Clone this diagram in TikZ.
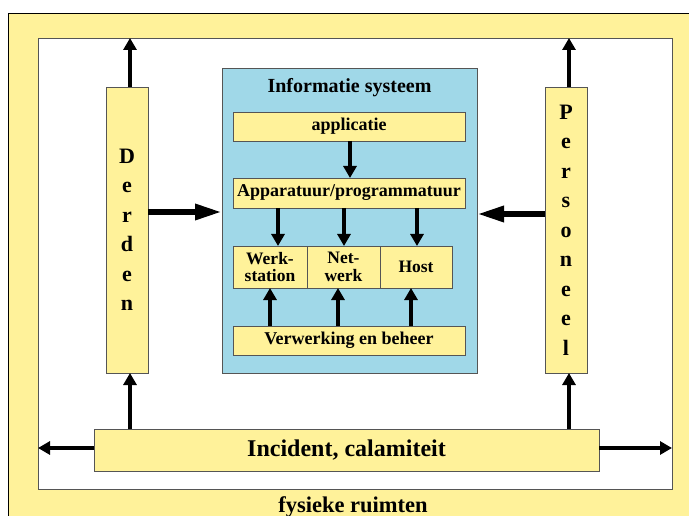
\documentclass[tikz,border=0pt]{standalone}
\usepackage{fontspec}
\setmainfont{Liberation Serif}
\usetikzlibrary{arrows.meta}
\definecolor{ylw}{RGB}{255,242,154}
\definecolor{blu}{RGB}{160,216,232}
\definecolor{edge}{RGB}{85,85,85}
\tikzset{
  box/.style={draw=edge, line width=0.8pt, fill=ylw, inner sep=0pt, outer sep=0pt, align=center, font=\bfseries\fontsize{17.5}{17.5}\selectfont},
  vbox/.style={box, minimum width=42pt, minimum height=286pt, font=\bfseries\fontsize{22}{29.5}\selectfont},
  arr/.style={line width=4.5pt, -{Triangle[length=12pt,width=13pt]}},
  bigarr/.style={line width=6pt, -{Triangle[length=27pt,width=15pt]}},
}
\begin{document}
\begin{tikzpicture}[x=1pt,y=-1pt]
\useasboundingbox (0,0) rectangle (689,516);
% outer yellow frame
\fill[ylw] (8,13) rectangle (689,516);
\draw[line width=0.9pt] (8,516) -- (8,13) -- (689,13);
% inner room
\node[draw=edge, line width=0.9pt, fill=white, minimum width=634pt, minimum height=451pt, inner sep=0pt, outer sep=0pt] (room) at (355,263.5) {};
\node[font=\bfseries\fontsize{22.5}{24}\selectfont, anchor=base] (fys) at (353,512) {fysieke ruimten};
% side boxes
\node[vbox] (derden) at (127,230) {D\\e\\r\\d\\e\\n};
\node[vbox] (pers) at (566,230) {P\\e\\r\\s\\o\\n\\e\\e\\l};
% information system
\node[draw=edge, line width=0.8pt, fill=blu, minimum width=255pt, minimum height=305pt, inner sep=0pt, outer sep=0pt] (info) at (349.5,220.5) {};
\node[font=\bfseries\fontsize{20}{20}\selectfont] (title) at (349.5,88) {Informatie systeem};
\node[box, minimum width=232pt, minimum height=29pt, font=\bfseries\fontsize{18}{18}\selectfont] (appl) at (349,126.5) {applicatie};
\node[box, minimum width=232pt, minimum height=30pt, font=\bfseries\fontsize{18}{18}\selectfont] (appar) at (349,193) {Apparatuur/programmatuur};
\node[box, minimum width=74pt, minimum height=42pt] (werk) at (270,267) {Werk-\\station};
\node[box, minimum width=73pt, minimum height=42pt] (net) at (343.5,267) {Net-\\werk};
\node[box, minimum width=72pt, minimum height=42pt] (host) at (416,267) {Host};
\node[box, minimum width=232pt, minimum height=29pt, font=\bfseries\fontsize{18}{18}\selectfont] (verw) at (349,340.5) {Verwerking en beheer};
% incident
\node[box, minimum width=505pt, minimum height=42pt, font=\bfseries\fontsize{24}{24}\selectfont] (inc) at (346.5,450) {Incident, calamiteit};
% arrows inside info
\draw[arr] ([xshift=1pt]appl.south) -- ([xshift=1pt]appar.north);
\draw[arr] ([xshift=8pt]werk.north |- appar.south) -- ([xshift=8pt]werk.north);
\draw[arr] ([xshift=0.5pt]net.north |- appar.south) -- ([xshift=0.5pt]net.north);
\draw[arr] ([xshift=1pt]host.north |- appar.south) -- ([xshift=1pt]host.north);
\draw[arr] (werk.south |- verw.north) -- (werk.south);
\draw[arr] ([xshift=-5.5pt]net.south |- verw.north) -- ([xshift=-5.5pt]net.south);
\draw[arr] ([xshift=-5pt]host.south |- verw.north) -- ([xshift=-5pt]host.south);
% side arrows
\draw[bigarr] ([yshift=18pt]derden.east) -- ([yshift=18pt]derden.east -| info.west);
\draw[bigarr] ([yshift=16pt]pers.west) -- ([yshift=16pt]pers.west -| info.east);
\draw[arr] ([xshift=3pt]derden.north) -- ([xshift=3pt]derden.north |- room.north);
\draw[arr] ([xshift=3pt]pers.north) -- ([xshift=3pt]pers.north |- room.north);
\draw[arr] ([xshift=3pt]derden.south |- inc.north) -- ([xshift=3pt]derden.south);
\draw[arr] ([xshift=3pt]pers.south |- inc.north) -- ([xshift=3pt]pers.south);
\draw[arr] ([yshift=2pt]inc.west) -- ([yshift=2pt]inc.west -| room.west);
\draw[arr] ([yshift=2pt]inc.east) -- ([yshift=2pt]inc.east -| room.east);
\end{tikzpicture}
\end{document}
